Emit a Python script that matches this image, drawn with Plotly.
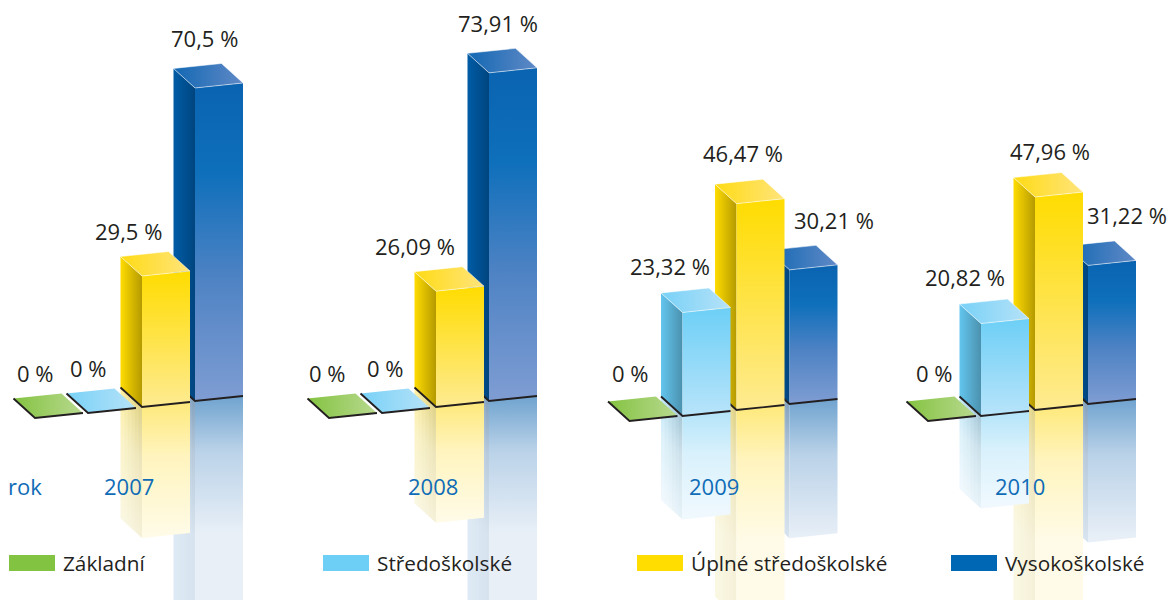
import plotly.graph_objects as go

# ---------- data ----------
years = ["2007", "2008", "2009", "2010"]
series_names = ["Základní", "Středoškolské", "Úplné středoškolské", "Vysokoškolské"]
zakladni = [0, 0, 0, 0]
stredoskolske = [0, 0, 23.32, 20.82]
uplne_stredoskolske = [29.5, 26.09, 46.47, 47.96]
vysokoskolske = [70.5, 73.91, 30.21, 31.22]
all_series = [zakladni, stredoskolske, uplne_stredoskolske, vysokoskolske]

# ---------- layout constants ----------
W, H = 1170, 600
PX_PER_PCT = 4.44
ZERO_PX = 405.0
group_shift_x = [0, 294, 594.5, 893]
group_shift_y = [0, 0, 3, 3]
front_left_x = [35, 88, 142, 195]
front_base_px = [418, 413, 407, 401]
BAR_W, BAR_TILT = 48, 5
DEPTH_X, DEPTH_Y = 21.5, 19.5
INK = "#231f20"
YEAR_BLUE = "#0f6cb6"
FONT = "Open Sans"
FS_VALUE = 22
FS_LEGEND = 20.75

label_dx = [[0, 0, -14, 9], [-2, 3, -21, 9], [0.5, -12.5, 6.5, 44.5], [6, -16, 15, 39]]
label_up = [[45.5, 45.5, 45, 49.5], [45.5, 45.5, 45, 49.5], [48.5, 46.5, 51, 49.5], [48.5, 46.5, 46.5, 50]]
year_center = [129, 433, 714, 1020]
legend_x = [9, 323, 637, 951]

swatch = ["#82c341", "#6dcff6", "#ffdd00", "#0067b5"]
# vertical stops are listed from the top of a face downwards
front_cs = [
    None,
    [[0, "#6dcff6"], [1, "#b8e4fa"]],
    [[0, "#ffdc00"], [1, "#feeb92"]],
    [[0, "#0a63b0"], [0.28, "#0e6fbb"], [0.62, "#4f83c4"], [1, "#7f9dd3"]],
]
side_cs = [
    None,
    [[0, "#63c5ee"], [1, "#4b91ae"]],
    [[0, "#ffdc00"], [1, "#b59a00"]],
    [[0, "#005ca6"], [1, "#00457f"]],
]
top_cs = [
    [[0, "#84c341"], [1, "#b8d98f"]],
    [[0, "#78d1f7"], [1, "#b6e2f8"]],
    [[0, "#ffdb14"], [1, "#ffe47c"]],
    [[0, "#1268b3"], [1, "#6089c6"]],
]
refl_front = [None, ("#b3e4f9", "#f1f9fe"), ("#fee97a", "#fffbe8"), ("#6fa3cf", "#e8eff7")]
refl_side_l = [None, ("#c2e9fa", "#f3fafe"), ("#fff0a0", "#fbf8e4"), ("#a6c4de", "#deeaf4")]
refl_side_r = [None, ("#a2c3d2", "#e6f2f8"), ("#dccf86", "#f4f0d8"), ("#7f9dba", "#d6e2ee")]
FADE_PX = 135.0


def u(px):
    """pixel row -> percent axis"""
    return (ZERO_PX - px) / PX_PER_PCT


def hex2rgb(c):
    return [int(c[i:i + 2], 16) for i in (1, 3, 5)]


def mix(a, b, t):
    ra, rb = hex2rgb(a), hex2rgb(b)
    return "#%02x%02x%02x" % tuple(round(p + (q - p) * t) for p, q in zip(ra, rb))


def flip(cs):
    """the gradient runs upwards along the y axis, the stops above run downwards"""
    return [[1 - p, c] for p, c in reversed(cs)]


fig = go.Figure()


def poly(xs, ys, cs, orient, name, line=None):
    fig.add_trace(go.Scatter(
        x=xs + xs[:1], y=ys + ys[:1], mode="lines", fill="toself", name=name,
        line=line or dict(width=0), fillcolor="rgba(0,0,0,0)",
        fillgradient=dict(type=orient, colorscale=cs),
        showlegend=False, hoverinfo="skip"))


def fade_scale(c, h_px):
    f = min(1.0, FADE_PX / max(h_px, 1))
    stops = [[0, c[0]], [0.4 * f, mix(c[0], c[1], 0.62)], [f, c[1]]]
    if f < 1:
        stops.append([1, c[1]])
    return flip(stops)


def geom(g, s):
    x = front_left_x[s] + group_shift_x[g]
    b = u(front_base_px[s] + group_shift_y[g])
    return x, b


tilt = BAR_TILT / PX_PER_PCT
dep = DEPTH_Y / PX_PER_PCT

# reflections, right to left
for g in range(3, -1, -1):
    for s in range(3, -1, -1):
        v = all_series[s][g]
        if v == 0:
            continue
        x, b = geom(g, s)
        h_px = v * PX_PER_PCT
        n = 6
        for i in range(n):
            t0, t1 = i / n, min(1, (i + 1.15) / n)
            tm = (i + 0.5) / n
            xa, xb = x - DEPTH_X * (1 - t0), x - DEPTH_X * (1 - t1)
            ya, yb = b + dep * (1 - t0), b + dep * (1 - t1)
            c = (mix(refl_side_l[s][0], refl_side_r[s][0], tm), mix(refl_side_l[s][1], refl_side_r[s][1], tm))
            poly([xa, xb, xb, xa], [ya, yb, yb - v, ya - v], fade_scale(c, h_px), "vertical",
                 f"{series_names[s]} {years[g]} odraz")
        poly([x, x + BAR_W, x + BAR_W, x], [b, b + tilt, b + tilt - v, b - v],
             fade_scale(refl_front[s], h_px), "vertical", f"{series_names[s]} {years[g]} odraz")

# bars, right to left
for g in range(3, -1, -1):
    for s in range(3, -1, -1):
        v = all_series[s][g]
        x, b = geom(g, s)
        nm = f"{series_names[s]} {years[g]}"
        if v > 0:
            poly([x - DEPTH_X, x, x, x - DEPTH_X], [b + dep, b, b + v, b + dep + v], side_cs[s], "horizontal", nm)
            poly([x, x + BAR_W, x + BAR_W, x], [b, b + tilt, b + tilt + v, b + v], flip(front_cs[s]), "vertical", nm)
        poly([x - DEPTH_X, x + BAR_W - DEPTH_X, x + BAR_W, x],
             [b + dep + v, b + dep + tilt + v, b + tilt + v, b + v], top_cs[s], "horizontal", nm,
             line=dict(width=0.7, color="rgba(255,255,255,0.75)") if v > 0 else None)
        fig.add_trace(go.Scatter(
            x=[x - DEPTH_X, x, x + BAR_W], y=[b + dep, b, b + tilt], mode="lines",
            line=dict(color=INK, width=1.9), showlegend=False, hoverinfo="skip", name=nm))

# value labels
for g in range(4):
    for s in range(4):
        v = all_series[s][g]
        x, b = geom(g, s)
        fig.add_annotation(x=x, y=b + v, xshift=label_dx[g][s], yshift=label_up[g][s],
                           text=("%g" % v).replace(".", ",") + " %", showarrow=False,
                           xanchor="center", yanchor="middle",
                           font=dict(family=FONT, size=FS_VALUE, color=INK))

# year labels
YEAR_ROW = u(486)
fig.add_annotation(x=6, y=YEAR_ROW, text="rok", showarrow=False, xanchor="left", yanchor="middle",
                   font=dict(family=FONT, size=FS_VALUE, color=YEAR_BLUE))
for g in range(4):
    fig.add_annotation(x=year_center[g], y=YEAR_ROW, text=years[g], showarrow=False,
                       xanchor="center", yanchor="middle",
                       font=dict(family=FONT, size=FS_VALUE, color=YEAR_BLUE))

# legend
for s in range(4):
    fig.add_shape(type="rect", x0=legend_x[s], x1=legend_x[s] + 46, y0=u(555), y1=u(571),
                  fillcolor=swatch[s], line_width=0)
    fig.add_annotation(x=legend_x[s] + 52, y=u(563), text=series_names[s], showarrow=False,
                       xanchor="left", yanchor="middle",
                       font=dict(family=FONT, size=FS_LEGEND, color=INK))

fig.update_layout(
    width=W, height=H, margin=dict(l=0, r=0, t=0, b=0), autosize=False,
    paper_bgcolor="white", plot_bgcolor="white", showlegend=False, hovermode=False,
    xaxis=dict(visible=False, range=[0, W], fixedrange=True),
    yaxis=dict(visible=False, range=[u(H), u(0)], fixedrange=True),
)
fig.write_html("out.html", config=dict(displayModeBar=False),
               post_script="document.body.style.margin='0';document.documentElement.style.overflow='hidden';")
